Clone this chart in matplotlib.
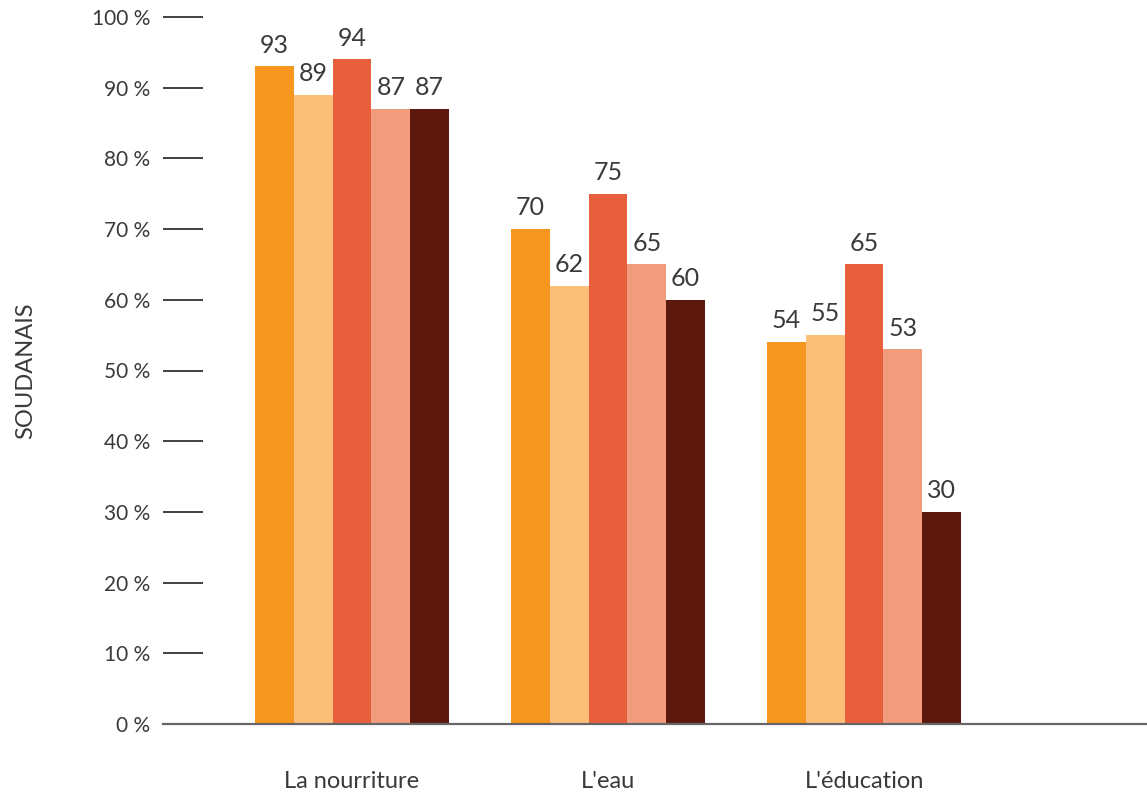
import numpy as np
import matplotlib
matplotlib.use("Agg")
import matplotlib.pyplot as plt

plt.rcParams['font.family'] = ['Lato', 'DejaVu Sans']

# Données
categories = ["La nourriture", "L'eau", "L'éducation"]
serie_1 = [93, 70, 54]
serie_2 = [89, 62, 55]
serie_3 = [94, 75, 65]
serie_4 = [87, 65, 53]
serie_5 = [87, 60, 30]
series = [serie_1, serie_2, serie_3, serie_4, serie_5]
colors = ["#F7961F", "#FBBF78", "#E85F3D", "#F09C7D", "#5C180D"]
yticks = list(range(0, 101, 10))
ytick_labels = [f"{v} %" for v in yticks]

text_color = "#3a3a3a"

fig = plt.figure(figsize=(11.47, 8.02), dpi=100)
ax = fig.add_axes([163 / 1147, 78 / 802, 984 / 1147, 707 / 802])

x = np.arange(len(categories))
width = 0.1516
for i, (vals, c) in enumerate(zip(series, colors)):
    pos = x + (i - 2) * width
    bars = ax.bar(pos, vals, width=width, color=c, linewidth=0, zorder=2)
    for b, v in zip(bars, vals):
        ax.annotate(str(v), (b.get_x() + b.get_width() / 2, v),
                    xytext=(0, 7), textcoords="offset points",
                    ha="center", va="bottom", fontsize=18,
                    color=text_color, annotation_clip=False)

ax.set_xlim(-0.738, 3.105)
ax.set_ylim(0, 100)
ax.set_yticks(yticks)
ax.set_yticklabels(ytick_labels, fontsize=15, color=text_color)
ax.tick_params(axis="y", direction="in", length=28.8, width=1.3, color="#333333", pad=9)
ax.set_xticks(x)
ax.set_xticklabels(categories, fontsize=17, color=text_color)
ax.tick_params(axis="x", length=0, pad=34)

for s in ["top", "right", "left"]:
    ax.spines[s].set_visible(False)
ax.spines["bottom"].set_color("#666666")
ax.spines["bottom"].set_linewidth(1.6)
ax.spines["bottom"].set_zorder(3)

ax.set_ylabel("SOUDANAIS", fontsize=17, color=text_color, labelpad=40)

fig.savefig("out.png", dpi=100)
